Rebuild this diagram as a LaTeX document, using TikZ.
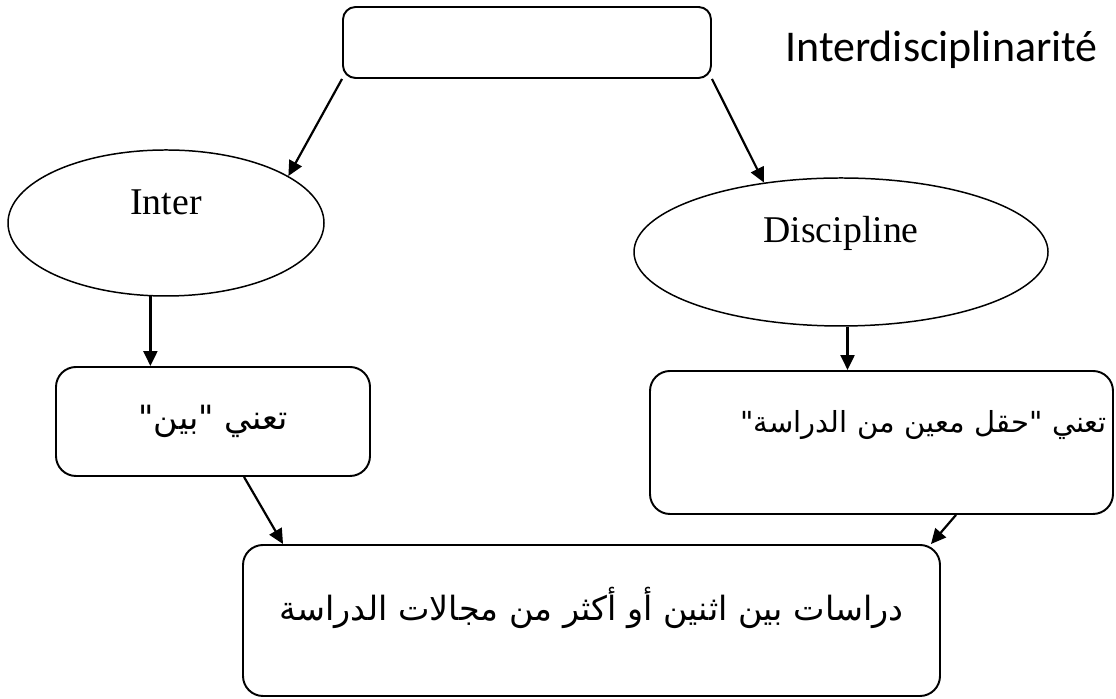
\documentclass[tikz,border=0pt]{standalone}
\usepackage{fontspec}
\setmainfont{Liberation Serif}
\newfontfamily\labfont{Carlito}
\newfontfamily\arabicfont[Script=Arabic]{DejaVu Sans}
\TeXXeTstate=1
\usepackage{tikz}
\usetikzlibrary{arrows.meta,shapes}
\tikzstyle{box0}		= [rectangle, draw=black, line width=1.1pt, rounded corners=0.25cm, minimum width=7.36cm, minimum height=1.42cm, inner sep=0pt]
\tikzstyle{boxA}		= [rectangle, draw=black, line width=1.1pt, rounded corners=0.4cm, inner sep=0pt, font=\arabicfont\fontsize{19}{23}\selectfont]
\tikzstyle{ellW}		= [ellipse, draw=black, line width=0.85pt, inner sep=0pt, font=\fontsize{21.5}{26}\selectfont]
\tikzstyle{edgearr} 	= [draw, line width=1.25pt, -{Triangle[length=0.3cm,width=0.28cm]}]

\begin{document}
\begin{tikzpicture}
		\useasboundingbox (0,0) rectangle (22.32,13.98);
		
		%%%% top box and title
		\node[box0] (top) at (10.54,13.13) {};
		\node[font=\labfont\fontsize{25}{30}\selectfont, anchor=base] (title) at (18.83,12.74) {Interdisciplinarité};
		
		%%%% the two parts of the word
		\node[ellW, minimum width=6.32cm, minimum height=2.92cm, text height=0.5cm, text depth=0.82cm] (inter) at (3.32,9.52) {Inter};
		\node[ellW, minimum width=8.28cm, minimum height=2.96cm, text height=0.5cm, text depth=0.86cm] (disc) at (16.82,8.94) {Discipline};
		
		%%%% meanings
		\node[boxA, minimum width=6.28cm, minimum height=2.18cm, text height=0.6cm, text depth=0.26cm] (interbox) at (4.26,5.55) {\beginR تعني "بين"\endR};
		\node[boxA, minimum width=9.26cm, minimum height=2.86cm, text width=9.02cm, align=right, text height=0.4cm, text depth=0.8cm, font=\arabicfont\fontsize{16.5}{20}\selectfont] (discbox) at (17.63,5.13) {\beginR تعني "حقل معين من الدراسة"\endR};
		\node[boxA, minimum width=13.94cm, minimum height=3.02cm, text height=0.4cm, text depth=0.4cm] (studybox) at (11.83,1.57) {\beginR دراسات بين اثنين أو أكثر من مجالات الدراسة\endR};
		
		%%%% arrows
		\path[edgearr] (top.south west) -- (inter.21);
		\path[edgearr] (top.south east) -- (disc.138);
		\path[edgearr] (inter.258) -- (inter.258 |- interbox.north);
		\path[edgearr] (disc.275) -- (disc.275 |- discbox.north);
		\path[edgearr] ([xshift=3.78cm]interbox.south west) -- ([xshift=0.82cm]studybox.north west);
		\path[edgearr] ([xshift=-3.16cm]discbox.south east) -- ([xshift=-0.2cm]studybox.north east);
\end{tikzpicture}
\end{document}
